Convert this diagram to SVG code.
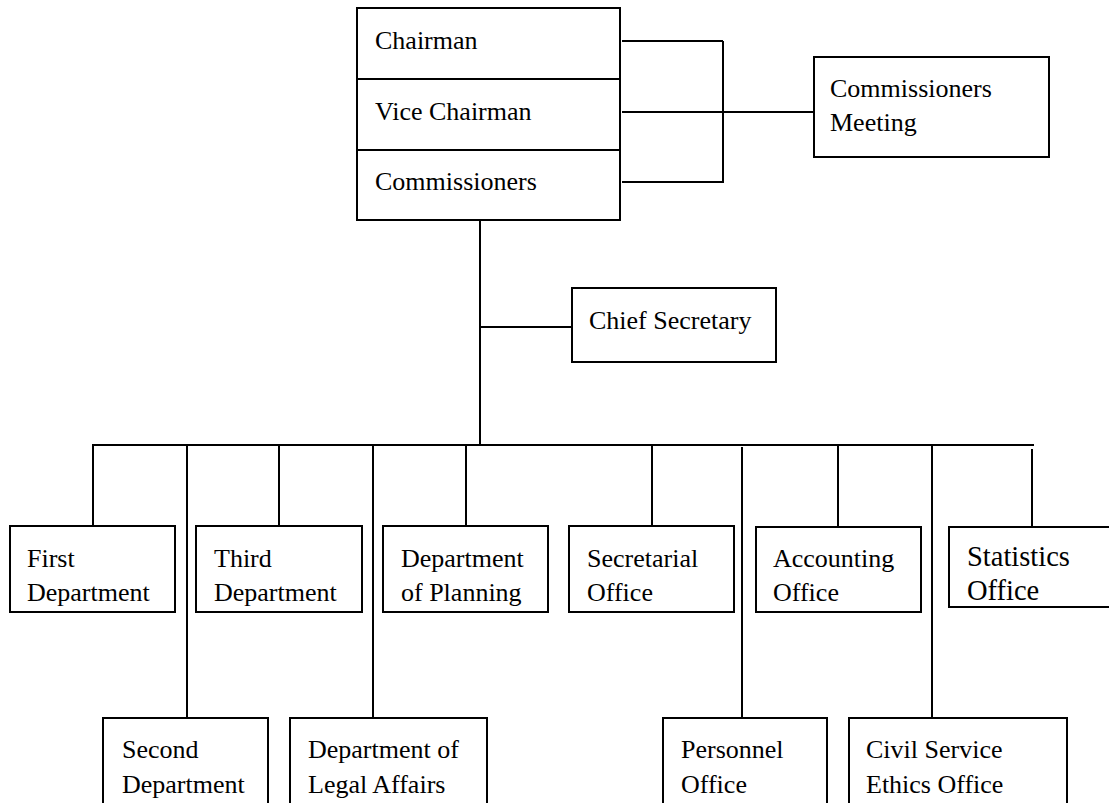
<svg xmlns="http://www.w3.org/2000/svg" width="1109" height="803" viewBox="0 0 1109 803">
  <style>
    .box { fill: #fff; stroke: #000; stroke-width: 2; }
    .wire { fill: none; stroke: #000; stroke-width: 2; }
    text { font-family: "Liberation Serif", "Times New Roman", serif; font-size: 26px; fill: #000; }
    .big { font-size: 28.5px; }
  </style>
  <rect width="1109" height="803" fill="#fff"/>

  <!-- connectors -->
  <g id="connectors">
    <!-- leadership to commissioners meeting -->
    <path class="wire" d="M622 41 H723 M622 112 H814 M622 182 H723 M723 41 V183"/>
    <!-- trunk and chief secretary branch -->
    <path class="wire" d="M480 220 V446 M480 327 H572"/>
    <!-- department bus -->
    <path class="wire" d="M92 445 H1034"/>
    <!-- drops to upper row -->
    <path class="wire" d="M93 445 V526 M279 445 V526 M466 445 V526 M652 445 V526 M838 445 V526 M1032 449 V526"/>
    <!-- drops to lower row -->
    <path class="wire" d="M187 445 V718 M373 445 V718 M742 447 V718 M932 445 V718"/>
  </g>

  <!-- leadership block -->
  <g id="leadership">
    <rect class="box" x="357" y="8" width="263" height="212"/>
    <line class="wire" x1="357" y1="79" x2="620" y2="79"/>
    <line class="wire" x1="357" y1="150" x2="620" y2="150"/>
    <text x="375" y="49">Chairman</text>
    <text x="375" y="120">Vice Chairman</text>
    <text x="375" y="190">Commissioners</text>
  </g>

  <g id="commissioners-meeting">
    <rect class="box" x="814" y="57" width="235" height="100"/>
    <text x="830" y="97">Commissioners</text>
    <text x="830" y="131">Meeting</text>
  </g>

  <g id="chief-secretary">
    <rect class="box" x="572" y="288" width="204" height="74"/>
    <text x="589" y="329">Chief Secretary</text>
  </g>

  <!-- upper row -->
  <g id="first-department">
    <rect class="box" x="10" y="526" width="165" height="86"/>
    <text x="27" y="567">First</text>
    <text x="27" y="601">Department</text>
  </g>
  <g id="third-department">
    <rect class="box" x="196" y="526" width="166" height="86"/>
    <text x="214" y="567">Third</text>
    <text x="214" y="601">Department</text>
  </g>
  <g id="department-of-planning">
    <rect class="box" x="383" y="526" width="165" height="86"/>
    <text x="401" y="567">Department</text>
    <text x="401" y="601">of Planning</text>
  </g>
  <g id="secretarial-office">
    <rect class="box" x="569" y="526" width="165" height="86"/>
    <text x="587" y="567">Secretarial</text>
    <text x="587" y="601">Office</text>
  </g>
  <g id="accounting-office">
    <rect class="box" x="756" y="527" width="165" height="85"/>
    <text x="773" y="567">Accounting</text>
    <text x="773" y="601">Office</text>
  </g>
  <g id="statistics-office">
    <rect class="box" x="949" y="527" width="170" height="80"/>
    <text class="big" x="967" y="566">Statistics</text>
    <text class="big" x="967" y="600">Office</text>
  </g>

  <!-- lower row -->
  <g id="second-department">
    <rect class="box" x="103" y="718" width="165" height="100"/>
    <text x="122" y="758">Second</text>
    <text x="122" y="793">Department</text>
  </g>
  <g id="department-of-legal-affairs">
    <rect class="box" x="290" y="718" width="197" height="100"/>
    <text x="308" y="758">Department of</text>
    <text x="308" y="793">Legal Affairs</text>
  </g>
  <g id="personnel-office">
    <rect class="box" x="663" y="718" width="164" height="100"/>
    <text x="681" y="758">Personnel</text>
    <text x="681" y="793">Office</text>
  </g>
  <g id="civil-service-ethics-office">
    <rect class="box" x="849" y="718" width="218" height="100"/>
    <text x="866" y="758">Civil Service</text>
    <text x="866" y="793">Ethics Office</text>
  </g>
</svg>
